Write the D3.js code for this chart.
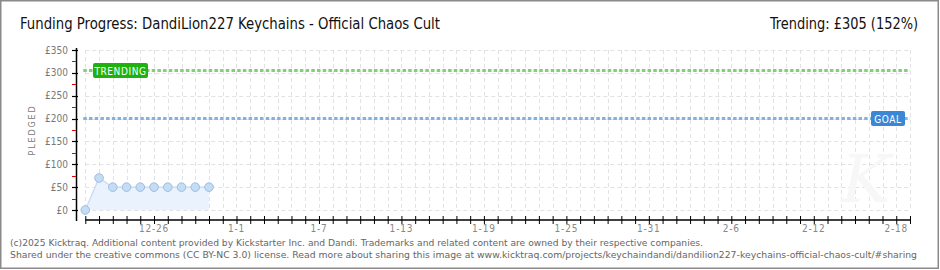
<!DOCTYPE html>
<html>
<head>
<meta charset="utf-8">
<script src="https://cdn.jsdelivr.net/npm/d3@7"></script>
<style>
  html, body { margin: 0; padding: 0; background: #fff; }
  svg { display: block; }
</style>
</head>
<body>
<div id="chart"></div>
<script>
(function () {
  'use strict';

  // data
  var pledgeDates = ['2024-12-21', '2024-12-22', '2024-12-23', '2024-12-24', '2024-12-25',
                     '2024-12-26', '2024-12-27', '2024-12-28', '2024-12-29', '2024-12-30'];
  var pledgeValues = [0, 70, 50, 50, 50, 50, 50, 50, 50, 50];
  var xDomainDates = ['2024-12-21', '2025-02-19'];
  var yTicks = [0, 50, 100, 150, 200, 250, 300, 350];
  var goalValue = 200;
  var trendingValue = 305;
  var titleText = 'Funding Progress: DandiLion227 Keychains - Official Chaos Cult';
  var trendingText = 'Trending:  \u00a3305 (152%)';
  var footerLines = [
    '(c)2025 Kicktraq. Additional content provided by Kickstarter Inc. and Dandi. Trademarks and related content are owned by their respective companies.',
    'Shared under the creative commons (CC BY-NC 3.0) license. Read more about sharing this image at www.kicktraq.com/projects/keychaindandi/dandilion227-keychains-official-chaos-cult/#sharing'
  ];

  var parse = d3.utcParse('%Y-%m-%d');
  var points = pledgeDates.map(function (d, i) { return { date: parse(d), value: pledgeValues[i] }; });

  var width = 940, height = 270;
  var svg = d3.select('#chart').append('svg').attr('width', width).attr('height', height);

  // frame
  svg.append('rect').attr('x', 0.75).attr('y', 0.75).attr('width', width - 2.5).attr('height', height - 2.5)
    .attr('fill', '#fff').attr('stroke', '#8a8a8a').attr('stroke-width', 1.5);

  var x = d3.scaleUtc().domain(xDomainDates.map(parse)).range([85.3, 910]);
  var y = d3.scaleLinear().domain([0, 350]).range([210, 50]);

  var pixelFont = '"DejaVu Sans Condensed", "Liberation Sans Narrow", sans-serif';
  var titleFont = '"Liberation Sans Narrow", "DejaVu Sans Condensed", sans-serif';

  // title
  svg.append('text').attr('x', 20).attr('y', 29).text(titleText)
    .attr('font-family', titleFont).attr('font-size', 16).attr('fill', '#111')
    .attr('textLength', 420).attr('lengthAdjust', 'spacingAndGlyphs');
  svg.append('text').attr('x', 918).attr('y', 29).attr('text-anchor', 'end').text(trendingText)
    .attr('font-family', titleFont).attr('font-size', 16).attr('fill', '#111')
    .attr('textLength', 148).attr('lengthAdjust', 'spacingAndGlyphs');

  // grid
  var days = d3.utcDay.range(x.domain()[0], d3.utcDay.offset(x.domain()[1], 1));
  var grid = svg.append('g').attr('stroke', '#e2e2e2').attr('stroke-dasharray', '4,3').attr('stroke-width', 1);
  grid.selectAll('line.v').data(days).enter().append('line')
    .attr('x1', function (d) { return Math.round(x(d)) + 0.5; })
    .attr('x2', function (d) { return Math.round(x(d)) + 0.5; })
    .attr('y1', y(350)).attr('y2', y(0));
  grid.selectAll('line.h').data(yTicks).enter().append('line')
    .attr('x1', x.range()[0]).attr('x2', x.range()[1])
    .attr('y1', function (d) { return Math.round(y(d)) + 0.5; })
    .attr('y2', function (d) { return Math.round(y(d)) + 0.5; });

  // faint watermark
  svg.append('text').attr('x', 866).attr('y', 202).attr('text-anchor', 'middle').text('K')
    .attr('font-family', 'DejaVu Serif, serif').attr('font-style', 'italic').attr('font-size', 66)
    .attr('fill', '#f7f7f7');

  // area + line
  var area = d3.area().x(function (d) { return x(d.date); }).y0(y(0)).y1(function (d) { return y(d.value); });
  var line = d3.line().x(function (d) { return x(d.date); }).y(function (d) { return y(d.value); });
  svg.append('path').datum(points).attr('d', area).attr('fill', '#eaf3fd');
  svg.append('path').datum(points).attr('d', line).attr('fill', 'none').attr('stroke', '#c2daf4').attr('stroke-width', 1.2);

  // goal + trending lines
  function refLine(v, color) {
    svg.append('line').attr('x1', x.range()[0] - 2).attr('x2', x.range()[1])
      .attr('y1', y(v)).attr('y2', y(v))
      .attr('stroke', color).attr('stroke-width', 3).attr('stroke-dasharray', '3.5,2.2');
  }
  refLine(trendingValue, '#80d075');
  refLine(goalValue, '#88b0de');

  function tag(label, cx, v, w, fill) {
    var g = svg.append('g');
    g.append('rect').attr('x', cx).attr('y', y(v) - 7.5).attr('width', w).attr('height', 15)
      .attr('rx', 2).attr('fill', fill);
    g.append('text').attr('x', cx + w / 2).attr('y', y(v) + 4).attr('text-anchor', 'middle').text(label)
      .attr('font-family', pixelFont).attr('font-size', 10).attr('letter-spacing', 0.6)
      .attr('fill', '#fff');
  }
  tag('TRENDING', 93, trendingValue, 55, '#1fb20f');
  tag('GOAL', 871, goalValue, 34, '#3b87d6');

  // points
  svg.selectAll('circle.pt').data(points).enter().append('circle')
    .attr('cx', function (d) { return x(d.date); })
    .attr('cy', function (d) { return y(d.value); })
    .attr('r', 4.3).attr('fill', '#c5dcf5').attr('stroke', '#9dbde2').attr('stroke-width', 1);

  // y axis
  var yAxis = svg.append('g');
  yAxis.append('line').attr('x1', 76.5).attr('x2', 76.5).attr('y1', y(350) - 2).attr('y2', y(0) + 11)
    .attr('stroke', '#000').attr('stroke-width', 1.5);
  yAxis.selectAll('line.minor').data(yTicks.slice(0, -1)).enter().append('line')
    .attr('x1', 72).attr('x2', 76).attr('y1', function (d) { return Math.round(y(d + 25)) + 0.5; })
    .attr('y2', function (d) { return Math.round(y(d + 25)) + 0.5; })
    .attr('stroke', '#e00000').attr('stroke-width', 1);
  yAxis.selectAll('line.major').data(yTicks).enter().append('line')
    .attr('x1', 72).attr('x2', 78).attr('y1', function (d) { return Math.round(y(d)) + 0.5; })
    .attr('y2', function (d) { return Math.round(y(d)) + 0.5; })
    .attr('stroke', '#000').attr('stroke-width', 1.2);
  yAxis.selectAll('text').data(yTicks).enter().append('text')
    .attr('x', 68).attr('y', function (d) { return y(d) + 3.5; })
    .attr('text-anchor', 'end').text(function (d) { return '\u00a3' + d; })
    .attr('font-family', pixelFont).attr('font-size', 10).attr('fill', '#777');
  svg.append('text').attr('transform', 'translate(35,130) rotate(-90)').attr('text-anchor', 'middle')
    .text('PLEDGED').attr('font-family', pixelFont).attr('font-size', 9).attr('letter-spacing', 1.8)
    .attr('fill', '#777');

  // x axis
  var xg = svg.append('g').attr('transform', 'translate(0,220)');
  xg.call(d3.axisBottom(x).tickValues(days).tickSize(5).tickFormat(''));
  xg.select('.domain').attr('d', 'M' + x.range()[0] + ',0H' + x.range()[1]).attr('stroke', '#000').attr('stroke-width', 1.5);
  xg.selectAll('.tick line').attr('y1', -4).attr('y2', 4).attr('stroke', '#000');
  var labelDays = days.filter(function (d, i) { return i >= 5 && (i - 5) % 6 === 0; });
  var fmt = d3.utcFormat('%-m-%-d');
  xg.selectAll('text.lbl').data(labelDays).enter().append('text')
    .attr('x', function (d) { return x(d); }).attr('y', 12).attr('text-anchor', 'middle')
    .text(function (d) { return fmt(d); })
    .attr('font-family', pixelFont).attr('font-size', 10).attr('letter-spacing', 0.8).attr('fill', '#888');

  // footer
  svg.selectAll('text.foot').data(footerLines).enter().append('text')
    .attr('x', 10).attr('y', function (d, i) { return 246 + i * 11.5; })
    .text(function (d) { return d; })
    .attr('font-family', '"DejaVu Sans", Verdana, sans-serif').attr('font-size', 9.4).attr('fill', '#666')
    .attr('textLength', function (d, i) { return i === 0 ? 693 : 907; })
    .attr('lengthAdjust', 'spacingAndGlyphs');
})();
</script>
</body>
</html>
